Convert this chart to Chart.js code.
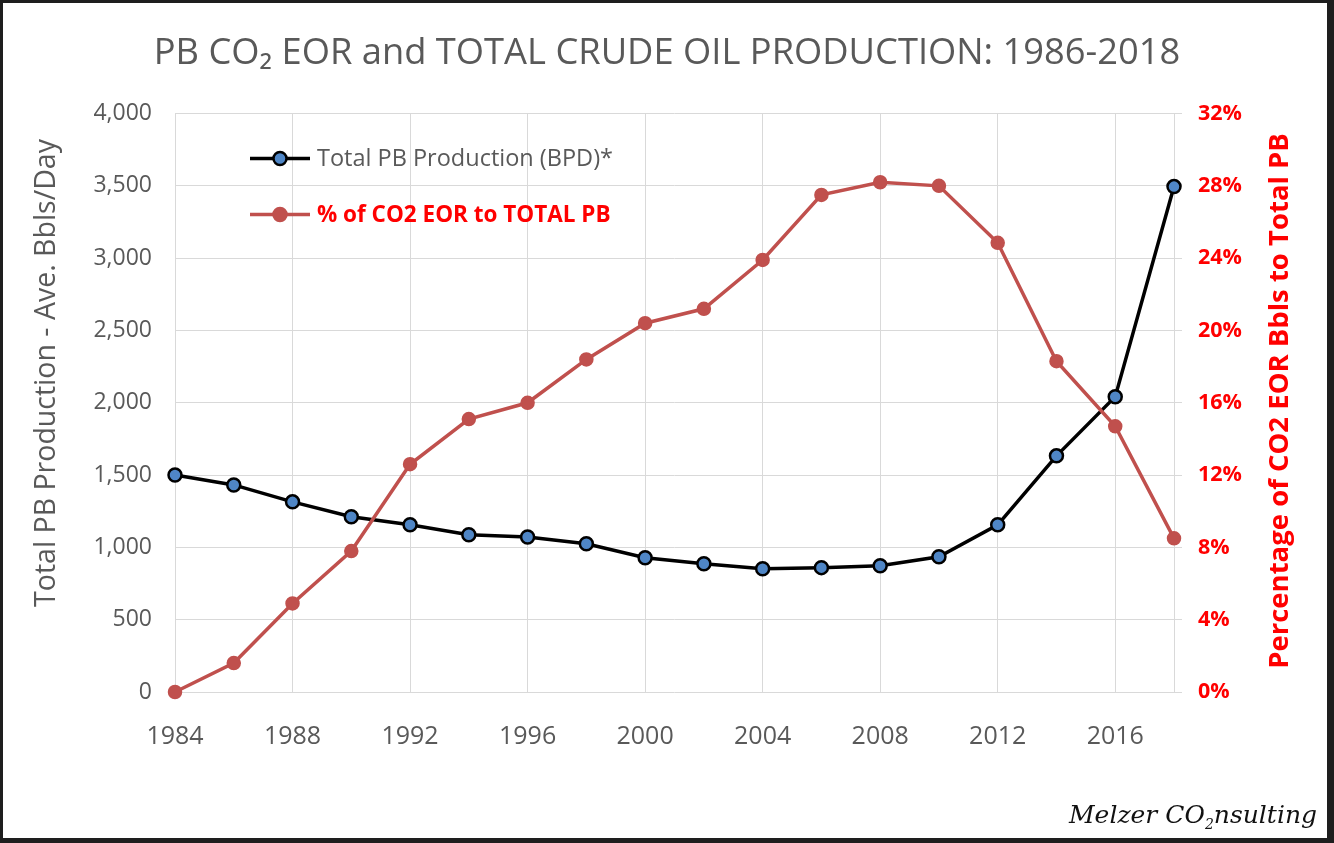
<!DOCTYPE html>
<html>
<head>
<meta charset="utf-8">
<script src="https://cdn.jsdelivr.net/npm/chart.js@4"></script>
<style>
  html, body { margin: 0; padding: 0; background: #fff; }
  #wrap { position: relative; width: 1334px; height: 843px; overflow: hidden; }
  #c { position: absolute; left: 0; top: 0; }
  #frame { position: absolute; left: 0; top: 0; width: 1334px; height: 843px; box-sizing: border-box;
    border-top: 3px solid #1e1e1e; border-left: 3px solid #1e1e1e; border-right: 7px solid #1e1e1e; border-bottom: 5px solid #1e1e1e;
    pointer-events: none; }
  #footer { position: absolute; right: 17px; bottom: 11px; font-family: "DejaVu Serif", serif; font-style: italic;
    font-size: 25px; color: #111; }
  #footer sub { font-size: 14px; }
</style>
</head>
<body>
<div id="wrap">
  <canvas id="c" width="1334" height="843"></canvas>
  <div id="footer">Melzer CO<sub>2</sub>nsulting</div>
  <div id="frame"></div>
</div>
<script>
// ---- data ----
const years = [1984, 1986, 1988, 1990, 1992, 1994, 1996, 1998, 2000, 2002, 2004, 2006, 2008, 2010, 2012, 2014, 2016, 2018];
const totalPB = [1500, 1432, 1315, 1212, 1156, 1087, 1072, 1025, 928, 887, 852, 860, 873, 935, 1156, 1633, 2042, 3495];
const pctCO2 = [0.0, 1.6, 4.9, 7.8, 12.6, 15.1, 16.0, 18.4, 20.4, 21.2, 23.9, 27.5, 28.2, 28.0, 24.85, 18.3, 14.7, 8.5];
const xTicks = [1984, 1988, 1992, 1996, 2000, 2004, 2008, 2012, 2016, 2018];
const seriesNames = ['Total PB Production (BPD)*', '% of CO2 EOR to TOTAL PB'];
const titleText = 'PB CO\u2082 EOR and TOTAL CRUDE OIL PRODUCTION: 1986-2018';
const leftTitle = 'Total PB Production - Ave. Bbls/Day';
const rightTitle = 'Percentage of CO2 EOR Bbls to Total PB';

const GRAY = '#595959';
const RED_TXT = '#ff0000';
const RED_LINE = '#c0504d';
const BLUE = '#4f86c6';
const FONT = '"Open Sans", "DejaVu Sans", sans-serif';

const overlayPlugin = {
  id: 'overlay',
  afterDatasetsDraw(chart) {
    const {ctx, chartArea} = chart;
    const items = [
      {label: seriesNames[0], line: '#000', fill: BLUE, border: '#000', color: GRAY, font: 'normal 23.5px ', dy: 45},
      {label: seriesNames[1], line: RED_LINE, fill: RED_LINE, border: RED_LINE, color: RED_TXT, font: 'bold 22.5px ', dy: 101}
    ];
    ctx.save();
    items.forEach(it => {
      const y = chartArea.top + it.dy;
      const x0 = chartArea.left + 75, x1 = chartArea.left + 135;
      ctx.strokeStyle = it.line; ctx.lineWidth = 3.5;
      ctx.beginPath(); ctx.moveTo(x0, y); ctx.lineTo(x1, y); ctx.stroke();
      ctx.beginPath(); ctx.arc((x0 + x1) / 2, y, 6.5, 0, Math.PI * 2);
      ctx.fillStyle = it.fill; ctx.fill();
      ctx.lineWidth = 2.5; ctx.strokeStyle = it.border; ctx.stroke();
      ctx.fillStyle = it.color;
      ctx.font = it.font + FONT;
      ctx.textBaseline = 'middle'; ctx.textAlign = 'left';
      ctx.fillText(it.label, x1 + 7, y + 1);
    });
    ctx.restore();
  },
  afterDraw(chart) {
    const {ctx} = chart;
    ctx.save();
    ctx.textAlign = 'center'; ctx.textBaseline = 'middle';
    // left axis title
    ctx.save();
    ctx.translate(47, 373);
    ctx.rotate(-Math.PI / 2);
    ctx.fillStyle = GRAY;
    ctx.font = 'normal 28.5px ' + FONT;
    ctx.fillText(leftTitle, 0, 0);
    ctx.restore();
    // right axis title
    ctx.save();
    ctx.translate(1280, 401);
    ctx.rotate(-Math.PI / 2);
    ctx.fillStyle = RED_TXT;
    ctx.font = 'bold 27.5px ' + FONT;
    ctx.fillText(rightTitle, 0, 0);
    ctx.restore();
    ctx.restore();
  }
};

new Chart(document.getElementById('c'), {
  type: 'line',
  data: {
    datasets: [
      {
        label: seriesNames[1],
        data: years.map((yr, i) => ({x: yr, y: pctCO2[i]})),
        yAxisID: 'y1',
        borderColor: RED_LINE, borderWidth: 3.5,
        pointBackgroundColor: RED_LINE, pointBorderColor: RED_LINE,
        pointRadius: 6.5, pointBorderWidth: 1.5,
        tension: 0, clip: false
      },
      {
        label: seriesNames[0],
        data: years.map((yr, i) => ({x: yr, y: totalPB[i]})),
        yAxisID: 'y',
        borderColor: '#000', borderWidth: 3.5,
        pointBackgroundColor: BLUE, pointBorderColor: '#000',
        pointRadius: 6.5, pointBorderWidth: 2.5,
        tension: 0, clip: false
      }
    ]
  },
  options: {
    responsive: false,
    animation: false,
    devicePixelRatio: 1,
    layout: { padding: { left: 0, right: 0, top: 0, bottom: 0 } },
    plugins: {
      legend: { display: false },
      tooltip: { enabled: false },
      title: {
        display: true, text: titleText, color: GRAY,
        font: { family: FONT, size: 36.3, weight: 'normal', lineHeight: 1.2 },
        padding: { top: 32, bottom: 38 }
      }
    },
    scales: {
      x: {
        type: 'linear', min: 1984, max: 2018,
        afterBuildTicks(scale) { scale.ticks = xTicks.map(v => ({value: v})); },
        afterFit(scale) { scale.height = 151; },
        grid: { color: '#d9d9d9', lineWidth: 1, drawTicks: false },
        border: { display: false },
        ticks: {
          autoSkip: false, maxRotation: 0, padding: 30, color: GRAY,
          font: { family: FONT, size: 25 },
          callback: v => (v === 2018 ? '' : String(v))
        }
      },
      y: {
        type: 'linear', position: 'left', min: 0, max: 4000,
        afterFit(scale) { scale.width = 175; },
        grid: { color: '#d9d9d9', lineWidth: 1, drawTicks: false },
        border: { display: false },
        ticks: {
          stepSize: 500, padding: 23, color: GRAY,
          font: { family: FONT, size: 23 },
          callback: v => v.toLocaleString('en-US')
        }
      },
      y1: {
        type: 'linear', position: 'right', min: 0, max: 32,
        afterFit(scale) { scale.width = 160; },
        grid: { drawOnChartArea: false, color: '#d9d9d9', drawTicks: true, tickLength: 8 },
        border: { display: false },
        ticks: {
          stepSize: 4, padding: 16, color: RED_TXT,
          font: { family: FONT, size: 21.5, weight: 'bold' },
          callback: v => v + '%'
        }
      }
    }
  },
  plugins: [overlayPlugin]
});
</script>
</body>
</html>
